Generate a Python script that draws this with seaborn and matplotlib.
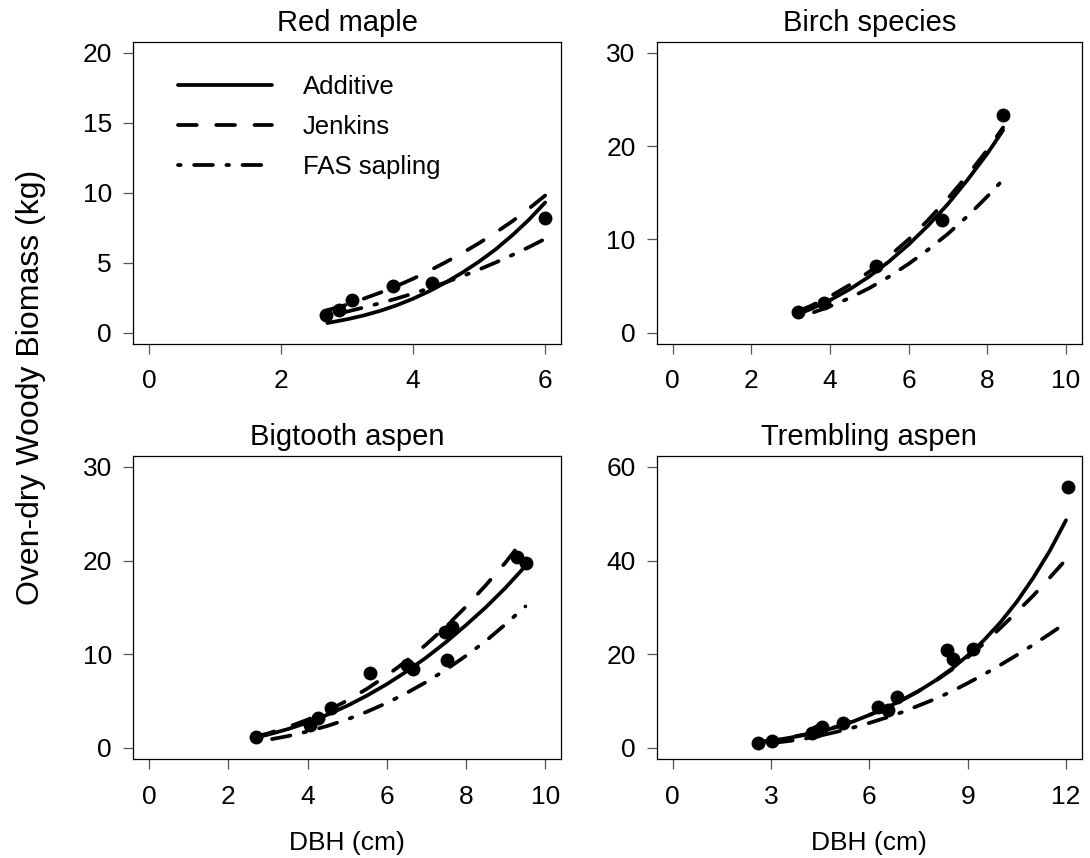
import numpy as np
import pandas as pd
import seaborn as sns
import matplotlib
matplotlib.use("Agg")
import matplotlib.pyplot as plt
from matplotlib.lines import Line2D

sns.set_theme(style="white")
plt.rcParams['font.family'] = ['Liberation Sans', 'DejaVu Sans']
plt.rcParams.update({"text.color": "black", "axes.labelcolor": "black",
                     "xtick.color": "black", "ytick.color": "black"})

# ---- observed trees (DBH cm, biomass kg) ----
maple_dbh = [2.68, 2.87, 3.07, 3.69, 4.28, 6.00]
maple_bio = [1.26, 1.63, 2.32, 3.34, 3.51, 8.20]

birch_dbh = [3.18, 3.84, 5.17, 6.85, 8.41]
birch_bio = [2.24, 3.13, 7.14, 12.1, 23.3]

bigtooth_dbh = [2.70, 4.06, 4.27, 4.59, 5.58, 6.50, 6.67, 7.51, 7.47, 7.64, 9.28, 9.52]
bigtooth_bio = [1.12, 2.44, 3.15, 4.22, 7.96, 8.85, 8.42, 9.38, 12.4, 12.9, 20.35, 19.7]

trembling_dbh = [2.61, 3.02, 4.24, 4.40, 4.55, 5.21, 6.27, 6.58, 6.84, 8.36, 8.56, 9.17, 12.07]
trembling_bio = [1.09, 1.45, 3.10, 3.60, 4.50, 5.36, 8.80, 8.10, 10.8, 20.9, 18.9, 21.0, 55.7]

# ---- predicted biomass for each equation ----
maple_grid = [2.7, 3.0, 3.25, 3.5, 3.75, 4.0, 4.25, 4.5, 4.75, 5.0, 5.25, 5.5, 5.75, 6.0]
maple_additive = [0.68, 0.95, 1.22, 1.55, 1.95, 2.42, 2.97, 3.60, 4.30, 5.08, 5.95, 6.95, 8.05, 9.30]
maple_jenkins = [1.60, 2.00, 2.42, 2.85, 3.33, 3.85, 4.43, 5.05, 5.70, 6.40, 7.15, 7.95, 8.85, 9.80]
maple_fas = [1.20, 1.50, 1.79, 2.10, 2.43, 2.79, 3.18, 3.60, 4.04, 4.51, 5.01, 5.54, 6.10, 6.70]

birch_grid = [3.2, 3.5, 4.0, 4.5, 5.0, 5.5, 6.0, 6.5, 7.0, 7.5, 8.0, 8.4]
birch_additive = [2.0, 2.50, 3.47, 4.64, 6.02, 7.62, 9.45, 11.5, 13.8, 16.4, 19.2, 21.7]
birch_jenkins = [2.3, 2.84, 3.88, 5.11, 6.53, 8.17, 10.0, 12.1, 14.4, 16.9, 19.6, 22.0]
birch_fas = [1.65, 2.04, 2.81, 3.71, 4.77, 5.99, 7.37, 8.91, 10.6, 12.5, 14.6, 16.4]

bigtooth_grid = [2.7, 3.0, 3.5, 4.0, 4.5, 5.0, 5.5, 6.0, 6.5, 7.0, 7.5, 8.0, 8.5, 9.0, 9.5]
bigtooth_additive = [1.10, 1.40, 1.99, 2.69, 3.53, 4.48, 5.57, 6.79, 8.15, 9.65, 11.3, 13.1, 15.0, 17.1, 19.4]
bigtooth_jenkins = [1.20, 1.53, 2.20, 3.00, 3.95, 5.04, 6.30, 7.71, 9.29, 11.05, 12.97, 15.07, 17.36, 19.8, 22.5]
bigtooth_fas = [0.65, 0.85, 1.24, 1.74, 2.33, 3.03, 3.85, 4.78, 5.85, 7.03, 8.36, 9.82, 11.4, 13.2, 15.1]

trembling_grid = [2.6, 3.0, 3.5, 4.0, 4.5, 5.0, 5.5, 6.0, 6.5, 7.0, 7.5, 8.0, 8.5, 9.0,
                  9.5, 10.0, 10.5, 11.0, 11.5, 12.0]
trembling_additive = [1.1, 1.5, 2.05, 2.7, 3.5, 4.4, 5.6, 7.0, 8.5, 10.2, 12.1, 14.3, 16.8, 19.7,
                      23.0, 26.8, 31.2, 36.3, 42.0, 48.6]
trembling_jenkins = [1.2, 1.6, 2.15, 2.8, 3.6, 4.5, 5.7, 7.0, 8.5, 10.2, 12.1, 14.2, 16.6, 19.3,
                     22.3, 25.6, 29.0, 32.5, 36.3, 40.2]
trembling_fas = [0.8, 1.0, 1.4, 1.9, 2.6, 3.4, 4.3, 5.3, 6.4, 7.6, 9.0, 10.4, 12.0, 13.8,
                 15.7, 17.7, 19.8, 22.0, 24.3, 26.7]

models = ["Additive", "Jenkins", "FAS sapling"]
dash_styles = {"Additive": "", "Jenkins": (5, 5.2), "FAS sapling": (0.7, 3.6, 5, 3.6)}

panels = [
    dict(title="Red maple", dbh=maple_dbh, bio=maple_bio, grid=maple_grid,
         preds=[maple_additive, maple_jenkins, maple_fas],
         xlim=(-0.24, 6.24), xticks=[0, 2, 4, 6],
         ylim=(-0.8, 20.8), yticks=[0, 5, 10, 15, 20],
         pos=[0.1223, 0.5994, 0.3924, 0.3520]),
    dict(title="Birch species", dbh=birch_dbh, bio=birch_bio, grid=birch_grid,
         preds=[birch_additive, birch_jenkins, birch_fas],
         xlim=(-0.4, 10.4), xticks=[0, 2, 4, 6, 8, 10],
         ylim=(-1.2, 31.2), yticks=[0, 10, 20, 30],
         pos=[0.6028, 0.5994, 0.3896, 0.3520]),
    dict(title="Bigtooth aspen", dbh=bigtooth_dbh, bio=bigtooth_bio, grid=bigtooth_grid,
         preds=[bigtooth_additive, bigtooth_jenkins, bigtooth_fas],
         xlim=(-0.4, 10.4), xticks=[0, 2, 4, 6, 8, 10],
         ylim=(-1.2, 31.2), yticks=[0, 10, 20, 30],
         pos=[0.1223, 0.1154, 0.3924, 0.3535]),
    dict(title="Trembling aspen", dbh=trembling_dbh, bio=trembling_bio, grid=trembling_grid,
         preds=[trembling_additive, trembling_jenkins, trembling_fas],
         xlim=(-0.48, 12.48), xticks=[0, 3, 6, 9, 12],
         ylim=(-2.4, 62.4), yticks=[0, 20, 40, 60],
         pos=[0.6028, 0.1154, 0.3896, 0.3535]),
]

LW = 2.7
TICK_FS = 19
TITLE_FS = 21

fig = plt.figure(figsize=(10.9, 8.58), dpi=100)
fig.patch.set_facecolor("white")

axes = []
for p in panels:
    ax = fig.add_axes(p["pos"])
    axes.append(ax)
    curves = pd.DataFrame({
        "dbh": np.tile(p["grid"], 3),
        "biomass": np.concatenate(p["preds"]),
        "model": np.repeat(models, len(p["grid"])),
    })
    sns.lineplot(data=curves, x="dbh", y="biomass", style="model", style_order=models,
                 dashes=dash_styles, color="black", linewidth=LW, estimator=None,
                 sort=False, legend=False, ax=ax)
    for ln in ax.get_lines():
        ln.set_dash_capstyle("round")
        ln.set_solid_capstyle("round")
        ln.set_solid_joinstyle("round")
    sns.scatterplot(x=p["dbh"], y=p["bio"], color="black", s=100, linewidth=0,
                    ax=ax, zorder=4)

    ax.set_xlim(*p["xlim"])
    ax.set_ylim(*p["ylim"])
    ax.set_xticks(p["xticks"])
    ax.set_yticks(p["yticks"])
    ax.set_xlabel("")
    ax.set_ylabel("")
    ax.set_title(p["title"], fontsize=TITLE_FS, pad=8)
    ax.tick_params(axis="both", which="major", direction="out", length=7.5,
                   width=0.9, color="#555555", labelsize=TICK_FS, labelcolor="black",
                   bottom=True, left=True)
    ax.tick_params(axis="x", pad=11)
    ax.tick_params(axis="y", pad=8)
    for s in ax.spines.values():
        s.set_visible(True)
        s.set_color("black")
        s.set_linewidth(0.9)
    ax.grid(False)

# legend in the first panel
handles = [Line2D([0], [0], color="black", lw=LW, solid_capstyle="round"),
           Line2D([0], [0], color="black", lw=LW, dashes=dash_styles["Jenkins"],
                  dash_capstyle="round"),
           Line2D([0], [0], color="black", lw=LW, dashes=dash_styles["FAS sapling"],
                  dash_capstyle="round")]
axes[0].legend(handles, models, loc="upper left", bbox_to_anchor=(0.1045, 0.89),
               frameon=False, fontsize=18.5, handlelength=3.65, handletextpad=1.2,
               labelspacing=0.62, borderpad=0, borderaxespad=0)

# shared axis labels
fig.text(0.028, 0.548, "Oven-dry Woody Biomass (kg)", rotation=90, fontsize=23,
         ha="center", va="center")
for ax in axes[2:]:
    pos = ax.get_position()
    fig.text(pos.x0 + pos.width / 2, 0.018, "DBH (cm)", fontsize=TICK_FS,
             ha="center", va="center")

fig.savefig("out.png", dpi=100, facecolor="white")
